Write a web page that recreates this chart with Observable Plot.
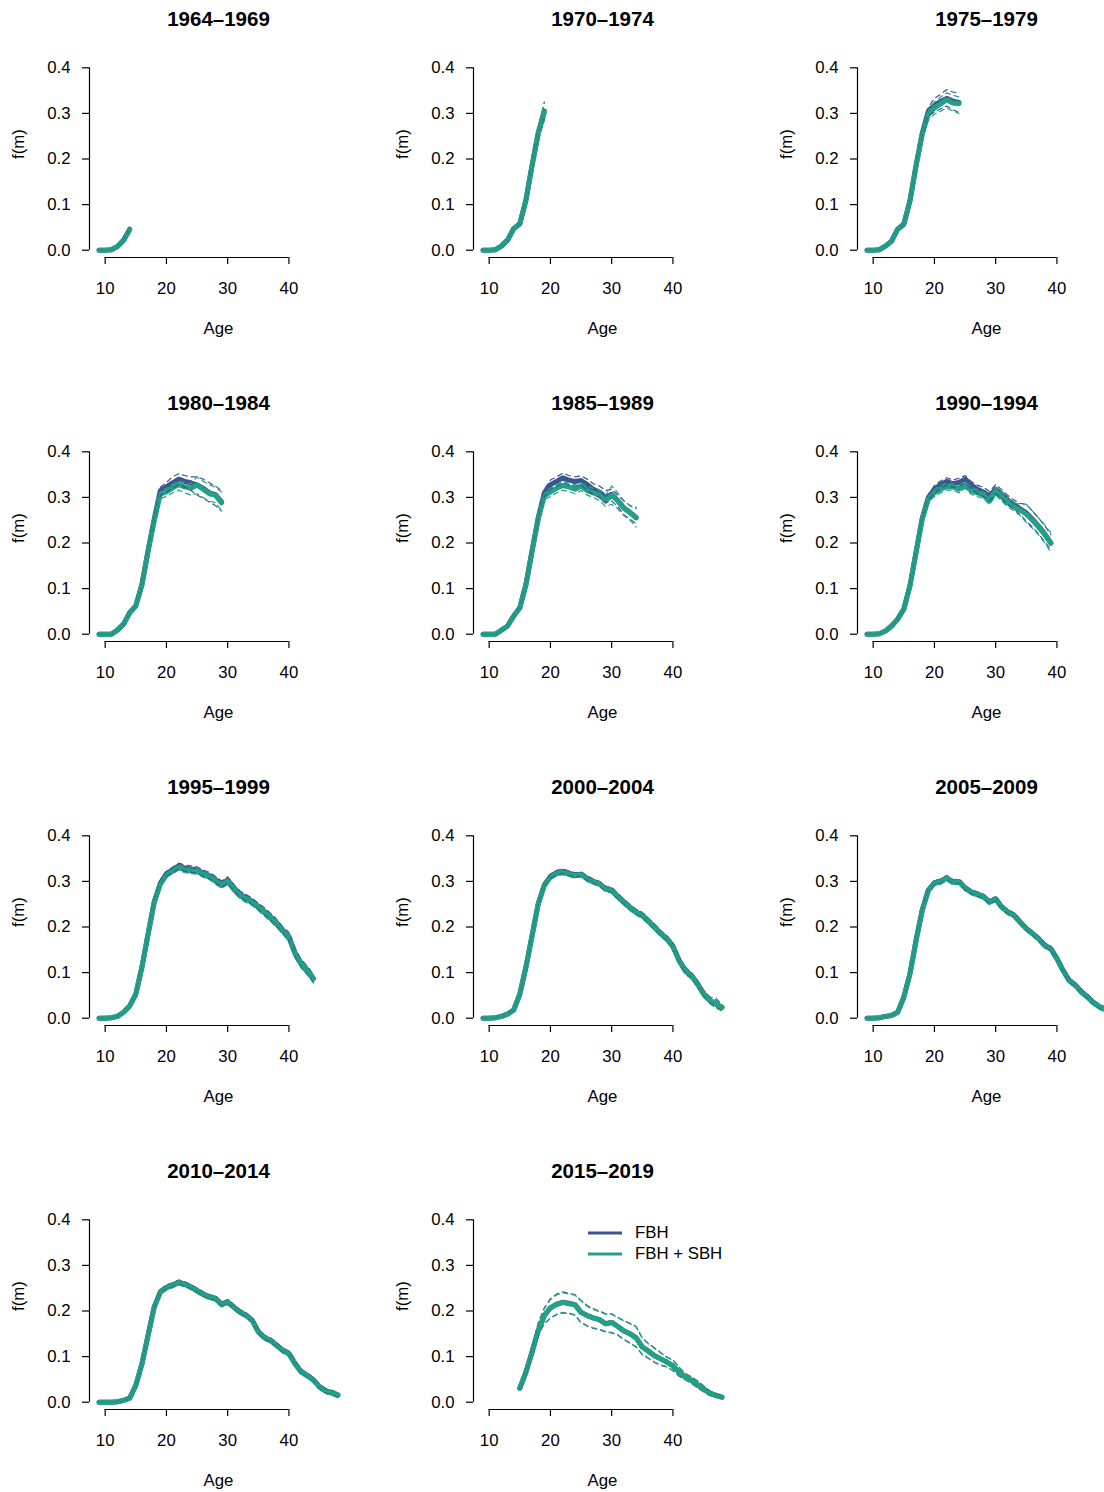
<!DOCTYPE html>
<html><head><meta charset="utf-8">
<script src="https://cdn.jsdelivr.net/npm/d3@7"></script>
<script src="https://cdn.jsdelivr.net/npm/@observablehq/plot@0.6"></script>
<style>
html,body{margin:0;padding:0;background:#fff;}
#wrap{position:relative;width:1104px;height:1492px;overflow:hidden;font-family:"Liberation Sans",Arial,Helvetica,sans-serif;}
.panel{position:absolute;}
.legend{position:absolute;font-size:16.8px;color:#000;}
</style></head><body><div id="wrap"></div>
<script>
const periods = ["1964–1969","1970–1974","1975–1979","1980–1984","1985–1989","1990–1994","1995–1999","2000–2004","2005–2009","2010–2014","2015–2019"];
const startAges = [9,9,9,9,9,9,9,9,9,9,15];
const seriesNames = ["FBH","FBH + SBH"];
const xTicks = [10,20,30,40];
const yTicks = [0,0.1,0.2,0.3,0.4];
const xLim = [9,48];
const yLim = [0,0.4];

const fbh = [
 [0,0,.001,.008,.022,.046],
 [0,0,.001,.009,.022,.047,.058,.110,.186,.257,.305],
 [0,0,.001,.009,.020,.046,.057,.108,.186,.256,.305,.318,.326,.333,.327,.324],
 [0,0,0,.009,.022,.047,.062,.109,.183,.252,.315,.323,.332,.340,.335,.332,.327,.320,.310,.306,.290],
 [0,0,0,.009,.018,.040,.058,.109,.183,.255,.310,.328,.335,.343,.338,.335,.337,.328,.318,.312,.300,.307,.293,.277,.267,.256],
 [0,0,.001,.007,.018,.033,.055,.106,.180,.254,.300,.318,.328,.335,.330,.333,.340,.327,.318,.312,.303,.318,.307,.294,.284,.275,.266,.252,.237,.220,.200],
 [0,0,.001,.004,.013,.027,.053,.112,.184,.255,.296,.317,.325,.334,.329,.327,.325,.318,.313,.304,.294,.303,.286,.272,.264,.256,.245,.234,.222,.209,.193,.179,.143,.120,.105,.087],
 [0,0,.001,.004,.009,.018,.053,.112,.181,.251,.292,.311,.319,.322,.318,.314,.316,.307,.300,.295,.284,.281,.267,.255,.243,.233,.226,.213,.200,.186,.175,.158,.127,.105,.094,.076,.054,.040,.031,.024],
 [0,0,.001,.004,.006,.013,.046,.097,.171,.237,.281,.297,.300,.308,.299,.300,.286,.277,.272,.267,.255,.262,.244,.233,.226,.211,.197,.186,.175,.160,.153,.131,.105,.083,.073,.058,.047,.034,.025,.019],
 [0,0,0,.001,.004,.009,.037,.084,.147,.209,.242,.252,.257,.263,.259,.253,.245,.237,.231,.228,.215,.220,.209,.198,.191,.180,.155,.142,.136,.125,.114,.107,.085,.067,.059,.049,.034,.025,.021,.016],
 [.031,.066,.110,.157,.190,.207,.215,.219,.217,.214,.197,.190,.185,.181,.172,.175,.166,.156,.150,.141,.121,.112,.102,.095,.088,.080,.066,.055,.048,.038,.029,.020,.015,.011]
];
const fbhLo = [
 [0,0,.001,.007,.019,.040],
 [0,0,.001,.008,.020,.044,.054,.104,.178,.246,.288],
 [0,0,.001,.008,.018,.043,.053,.102,.178,.246,.295,.303,.310,.316,.308,.302],
 [0,0,0,.008,.020,.044,.058,.103,.176,.244,.305,.312,.320,.328,.322,.315,.305,.298,.290,.282,.270],
 [0,0,0,.008,.016,.037,.054,.103,.176,.247,.302,.318,.325,.333,.328,.325,.327,.316,.306,.300,.288,.292,.280,.262,.252,.242],
 [0,0,.001,.006,.016,.030,.051,.100,.173,.246,.294,.310,.320,.327,.322,.324,.332,.319,.309,.302,.293,.308,.297,.284,.274,.262,.248,.235,.220,.203,.185],
 [0,0,.001,.003,.012,.025,.050,.108,.179,.249,.290,.311,.319,.328,.322,.320,.318,.311,.306,.297,.287,.296,.279,.265,.257,.249,.238,.226,.214,.201,.186,.170,.134,.111,.096,.078],
 [0,0,.001,.003,.008,.016,.050,.108,.176,.246,.287,.306,.314,.317,.313,.309,.311,.302,.295,.290,.279,.275,.261,.249,.237,.227,.220,.207,.194,.180,.169,.152,.120,.098,.087,.069,.047,.033,.024,.017],
 [0,0,.001,.003,.005,.011,.043,.093,.166,.232,.276,.292,.295,.303,.294,.295,.281,.272,.267,.262,.250,.257,.239,.228,.221,.206,.192,.181,.170,.155,.148,.126,.100,.078,.068,.053,.042,.029,.020,.014],
 [0,0,0,.001,.003,.007,.034,.080,.142,.204,.237,.247,.252,.258,.254,.248,.240,.232,.226,.223,.210,.215,.204,.193,.186,.175,.150,.137,.131,.120,.109,.102,.080,.062,.054,.044,.029,.020,.016,.011],
 [.029,.062,.101,.147,.172,.184,.192,.196,.194,.191,.174,.167,.162,.159,.154,.152,.147,.137,.129,.121,.104,.096,.087,.081,.077,.069,.057,.049,.041,.032,.023,.015,.011,.008]
];
const fbhHi = [
 [0,0,.001,.009,.025,.053],
 [0,0,.001,.010,.024,.050,.062,.116,.194,.268,.325],
 [0,0,.001,.010,.022,.049,.061,.114,.194,.266,.313,.333,.342,.352,.347,.344],
 [0,0,0,.010,.024,.050,.066,.115,.190,.260,.322,.333,.345,.352,.348,.345,.345,.340,.332,.325,.315],
 [0,0,0,.010,.020,.043,.062,.115,.190,.263,.318,.338,.345,.353,.348,.345,.347,.340,.330,.325,.315,.318,.305,.292,.282,.278],
 [0,0,.001,.008,.020,.036,.059,.112,.187,.262,.306,.326,.336,.343,.338,.342,.348,.335,.327,.322,.313,.328,.317,.304,.294,.287,.285,.270,.255,.238,.218],
 [0,0,.001,.005,.014,.029,.056,.116,.189,.261,.302,.322,.331,.340,.336,.334,.332,.325,.320,.311,.301,.310,.293,.279,.271,.263,.252,.242,.230,.217,.200,.188,.152,.129,.114,.096],
 [0,0,.001,.005,.010,.020,.056,.116,.186,.256,.297,.316,.324,.327,.323,.319,.321,.312,.305,.300,.289,.287,.273,.261,.249,.239,.232,.219,.206,.192,.181,.164,.134,.112,.101,.083,.061,.047,.040,.031],
 [0,0,.001,.005,.007,.015,.049,.101,.176,.242,.286,.302,.305,.313,.304,.305,.291,.282,.277,.272,.260,.267,.249,.238,.231,.216,.202,.191,.180,.165,.158,.136,.110,.088,.078,.063,.052,.039,.030,.024],
 [0,0,0,.002,.005,.011,.040,.088,.152,.214,.247,.257,.262,.268,.264,.258,.250,.242,.236,.233,.220,.225,.214,.203,.196,.185,.160,.147,.141,.130,.119,.112,.090,.072,.064,.054,.039,.030,.026,.021],
 [.033,.070,.119,.174,.207,.227,.237,.242,.239,.236,.223,.212,.205,.200,.194,.194,.186,.179,.173,.166,.141,.129,.119,.109,.099,.093,.077,.063,.056,.047,.036,.025,.019,.014]
];
const sbh = [
 [0,0,.001,.008,.022,.045],
 [0,0,.001,.009,.022,.047,.058,.110,.185,.255,.302],
 [0,0,.001,.009,.020,.046,.057,.108,.185,.254,.298,.312,.321,.330,.323,.321],
 [0,0,0,.009,.022,.047,.062,.109,.182,.248,.307,.312,.321,.328,.323,.320,.327,.318,.308,.305,.288],
 [0,0,0,.009,.018,.040,.058,.109,.182,.252,.303,.312,.320,.326,.323,.318,.325,.315,.310,.305,.292,.305,.292,.276,.266,.255],
 [0,0,.001,.007,.018,.033,.055,.106,.179,.252,.296,.310,.318,.324,.323,.318,.327,.315,.310,.305,.292,.314,.301,.288,.279,.272,.263,.250,.235,.219,.199],
 [0,0,.001,.004,.013,.027,.053,.112,.184,.254,.294,.314,.322,.331,.325,.323,.322,.315,.310,.301,.291,.300,.283,.269,.261,.254,.243,.232,.220,.207,.191,.177,.141,.119,.104,.086],
 [0,0,.001,.004,.009,.018,.053,.112,.181,.250,.291,.309,.317,.320,.316,.312,.315,.305,.299,.294,.283,.280,.266,.254,.242,.232,.225,.212,.199,.185,.174,.157,.126,.104,.093,.075,.053,.039,.031,.024],
 [0,0,.001,.004,.006,.013,.046,.097,.170,.236,.280,.296,.299,.307,.298,.299,.285,.276,.271,.266,.254,.261,.243,.232,.225,.210,.196,.185,.174,.159,.152,.130,.104,.082,.072,.057,.046,.033,.024,.018],
 [0,0,0,.001,.004,.009,.037,.084,.146,.208,.241,.251,.256,.262,.258,.252,.244,.236,.230,.227,.214,.219,.208,.197,.190,.179,.154,.141,.135,.124,.113,.106,.084,.066,.058,.048,.033,.024,.020,.015],
 [.031,.066,.110,.157,.190,.207,.214,.219,.216,.214,.197,.190,.185,.181,.172,.175,.166,.156,.150,.141,.121,.112,.102,.095,.088,.080,.066,.055,.048,.038,.029,.020,.015,.011]
];
const sbhLo = [
 [0,0,.001,.007,.019,.039],
 [0,0,.001,.008,.020,.044,.054,.104,.177,.244,.285],
 [0,0,.001,.008,.018,.043,.053,.102,.177,.244,.288,.298,.305,.312,.305,.300],
 [0,0,0,.008,.020,.044,.058,.103,.175,.240,.298,.302,.310,.316,.310,.305,.308,.300,.292,.288,.272],
 [0,0,0,.008,.016,.037,.054,.103,.175,.244,.295,.302,.310,.316,.313,.308,.315,.305,.300,.293,.280,.285,.275,.260,.250,.235],
 [0,0,.001,.006,.016,.030,.051,.100,.172,.244,.290,.302,.310,.316,.316,.310,.320,.307,.302,.297,.284,.305,.292,.279,.270,.260,.245,.232,.218,.200,.180],
 [0,0,.001,.003,.012,.025,.050,.108,.179,.249,.289,.309,.317,.325,.319,.317,.316,.309,.304,.294,.285,.293,.276,.262,.254,.247,.236,.224,.212,.199,.184,.168,.132,.110,.095,.077],
 [0,0,.001,.003,.008,.016,.050,.108,.176,.245,.286,.304,.312,.315,.311,.307,.310,.300,.294,.289,.278,.274,.260,.248,.236,.226,.219,.206,.193,.179,.168,.151,.119,.097,.086,.068,.046,.032,.022,.016],
 [0,0,.001,.003,.005,.011,.043,.093,.165,.231,.275,.291,.294,.302,.293,.294,.280,.271,.266,.261,.249,.256,.238,.227,.220,.205,.191,.180,.169,.154,.147,.125,.099,.077,.067,.052,.041,.028,.019,.013],
 [0,0,0,.001,.003,.007,.034,.080,.141,.203,.236,.246,.251,.257,.253,.247,.239,.231,.225,.222,.209,.214,.203,.192,.185,.174,.149,.136,.130,.119,.108,.101,.079,.061,.053,.043,.028,.019,.015,.010],
 [.029,.062,.102,.148,.173,.185,.193,.197,.195,.192,.175,.168,.163,.160,.155,.153,.148,.138,.130,.122,.105,.097,.088,.082,.078,.070,.058,.050,.042,.033,.024,.016,.012,.009]
];
const sbhHi = [
 [0,0,.001,.009,.025,.055],
 [0,0,.001,.010,.024,.050,.062,.116,.193,.266,.322],
 [0,0,.001,.010,.022,.049,.061,.114,.193,.264,.306,.325,.336,.345,.340,.336],
 [0,0,0,.010,.024,.050,.066,.115,.189,.256,.313,.320,.328,.336,.332,.330,.345,.335,.328,.322,.312],
 [0,0,0,.010,.020,.043,.062,.115,.189,.260,.310,.320,.328,.335,.332,.328,.333,.325,.320,.315,.305,.325,.310,.292,.282,.275],
 [0,0,.001,.008,.020,.036,.059,.112,.186,.260,.302,.318,.326,.332,.330,.326,.334,.323,.318,.313,.302,.322,.310,.297,.288,.285,.285,.270,.255,.240,.222],
 [0,0,.001,.005,.014,.029,.056,.116,.189,.259,.299,.319,.327,.337,.331,.329,.328,.321,.316,.308,.297,.306,.290,.276,.268,.261,.250,.240,.228,.215,.198,.186,.150,.128,.113,.095],
 [0,0,.001,.005,.010,.020,.056,.116,.186,.255,.296,.314,.322,.325,.321,.317,.320,.310,.304,.299,.288,.286,.272,.260,.248,.238,.231,.218,.205,.191,.180,.163,.133,.111,.100,.082,.060,.046,.045,.030],
 [0,0,.001,.005,.007,.015,.049,.101,.175,.241,.285,.301,.304,.312,.303,.304,.290,.281,.276,.271,.259,.266,.248,.237,.230,.215,.201,.190,.179,.164,.157,.135,.109,.087,.077,.062,.051,.038,.029,.023],
 [0,0,0,.002,.005,.011,.040,.088,.151,.213,.246,.256,.261,.267,.263,.257,.249,.241,.235,.232,.219,.224,.213,.202,.195,.184,.159,.146,.140,.129,.118,.111,.089,.071,.063,.053,.038,.029,.025,.022],
 [.033,.070,.118,.172,.205,.225,.235,.240,.237,.235,.222,.210,.203,.198,.193,.193,.185,.178,.172,.165,.140,.128,.118,.108,.098,.092,.076,.062,.055,.046,.035,.024,.018,.013]
];

const colors = ["#3B568C", "#22A186"];
const pad = 0.04;
const xDom = [xLim[0] - pad*(xLim[1]-xLim[0]), xLim[1] + pad*(xLim[1]-xLim[0])];
const yDom = [yLim[0] - pad*(yLim[1]-yLim[0]), yLim[1] + pad*(yLim[1]-yLim[0])];
const FONT = '"Liberation Sans", Arial, Helvetica, sans-serif';
const wrap = document.getElementById("wrap");
const PW = 384, PH = 384;

periods.forEach((p, i) => {
  const ages = d3.range(startAges[i], startAges[i] + sbh[i].length);
  const rows = arr => ages.map((a, j) => ({age: a, f: arr[j]}));
  const main = (arr, c) => Plot.line(rows(arr), {x: "age", y: "f", stroke: c, strokeWidth: 5, strokeLinecap: "round", strokeLinejoin: "round"});
  const dash = (arr, c) => Plot.line(rows(arr), {x: "age", y: "f", stroke: c, strokeWidth: 1.2, strokeDasharray: "5,4"});
  const svg = Plot.plot({
    width: PW, height: PH,
    marginLeft: 89, marginRight: 37, marginTop: 60, marginBottom: 127,
    x: {domain: xDom, label: null},
    y: {domain: yDom, label: null},
    style: {fontFamily: FONT, fontSize: "16.8px", color: "#000", background: "transparent", overflow: "visible"},
    marks: [
      Plot.ruleY([yDom[0]], {x1: xTicks[0], x2: xTicks[xTicks.length-1], stroke: "#000", strokeWidth: 1.2}),
      Plot.ruleX([xDom[0]], {y1: yTicks[0], y2: yTicks[yTicks.length-1], stroke: "#000", strokeWidth: 1.2}),
      Plot.axisX({ticks: xTicks, anchor: "bottom", tickSize: 7, tickPadding: 18, tickFormat: d => String(d), label: null, strokeWidth: 1.2, fontSize: 16.8}),
      Plot.axisY({ticks: yTicks, anchor: "left", tickSize: 7, tickPadding: 12, tickFormat: d3.format(".1f"), label: null, strokeWidth: 1.2, fontSize: 16.8}),
      Plot.text([p], {frameAnchor: "top", dy: -41, fontWeight: "bold", fontSize: 20.5, lineAnchor: "middle", fill: "#000"}),
      Plot.text(["Age"], {frameAnchor: "bottom", dy: 71, fontSize: 16.8, lineAnchor: "middle", fill: "#000"}),
      Plot.text(["f(m)"], {frameAnchor: "left", dx: -71, rotate: -90, fontSize: 16.8, lineAnchor: "middle", fill: "#000"}),
      main(fbh[i], colors[0]),
      main(sbh[i], colors[1]),
      dash(fbhLo[i], colors[0]),
      dash(fbhHi[i], colors[0]),
      dash(sbhLo[i], colors[1]),
      dash(sbhHi[i], colors[1])
    ]
  });
  const col = i % 3, row = Math.floor(i / 3);
  svg.classList.add("panel");
  svg.style.left = (col * PW) + "px";
  svg.style.top = (row * PH) + "px";
  wrap.appendChild(svg);
  if (i === periods.length - 1) {
    const lg = document.createElement("div");
    lg.className = "legend";
    lg.style.left = (col * PW + 204) + "px";
    lg.style.top = (row * PH + 70) + "px";
    lg.innerHTML = seriesNames.map((n, k) =>
      `<div style="display:flex;align-items:center;height:21px;"><svg width="34" height="6" style="margin-right:13px"><line x1="0" y1="3" x2="34" y2="3" stroke="${colors[k]}" stroke-width="3"/></svg><span>${n}</span></div>`
    ).join("");
    wrap.appendChild(lg);
  }
});
</script>
</body></html>
